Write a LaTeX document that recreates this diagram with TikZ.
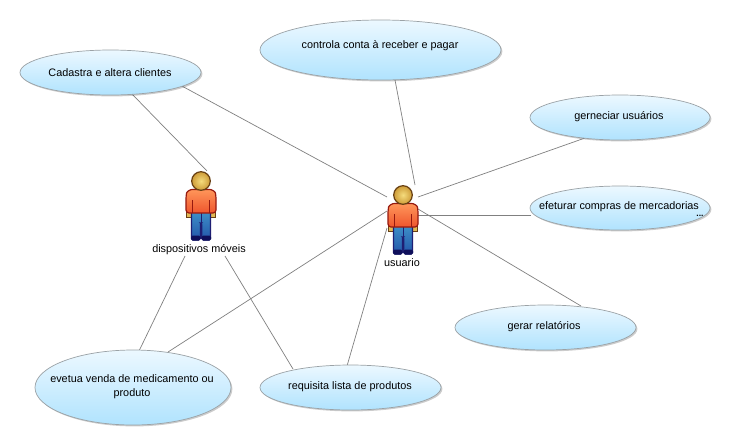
\documentclass[tikz,border=0pt]{standalone}
\usepackage{fontspec}
\setmainfont{Liberation Sans}
\usetikzlibrary{shapes.geometric,shadows}
\definecolor{ebord}{RGB}{155,162,166}
\definecolor{etop}{RGB}{236,248,255}
\definecolor{ebot}{RGB}{176,227,254}
\definecolor{torsoT}{RGB}{255,150,90}
\definecolor{torsoB}{RGB}{238,85,45}
\definecolor{torsoL}{RGB}{150,25,15}
\definecolor{legT}{RGB}{62,145,200}
\definecolor{legB}{RGB}{35,85,170}
\definecolor{legL}{RGB}{30,30,115}
\definecolor{footC}{RGB}{15,15,90}
\definecolor{headI}{RGB}{245,220,125}
\definecolor{headO}{RGB}{205,155,55}
\definecolor{headL}{RGB}{105,65,20}
\definecolor{handC}{RGB}{225,185,85}
\tikzset{
 usecase/.style={ellipse,draw=ebord,line width=.7pt,top color=etop,bottom color=ebot,inner sep=0pt,
   minimum width=#1,drop shadow={shadow xshift=1.4pt,shadow yshift=-1.4pt,opacity=.2,fill=black}},
 lnk/.style={draw=black!50,line width=.7pt},
 lab/.style={font=\fontsize{10.85}{14}\selectfont,inner sep=0pt,text=black},
}
\newcommand{\actorfig}[1]{%
 \begin{scope}[shift={#1}]
  \fill[handC,draw=headL,line width=.5pt] (-14.5,30) rectangle (-9.5,36);
  \fill[handC,draw=headL,line width=.5pt] (9.5,30) rectangle (14.5,36);
  \draw[line width=1.1pt,draw=legL,top color=legT,bottom color=legB,rounded corners=1.5pt]
    (-9.5,30) -- (-9.5,59) -- (-0.7,59) -- (-0.7,42) -- (0.7,42) -- (0.7,59) -- (9.5,59) -- (9.5,30) -- cycle;
  \draw[line width=.9pt,legL] (0,32) -- (0,56);
  \fill[footC,rounded corners=1.5pt] (-10,54.5) rectangle (-0.6,59.5);
  \fill[footC,rounded corners=1.5pt] (0.6,54.5) rectangle (10,59.5);
  \draw[line width=1.2pt,draw=torsoL,top color=torsoT,bottom color=torsoB,rounded corners=3pt]
    (-15,32) -- (-15,15) .. controls (-14,10) and (-10,8.5) .. (-6,8.5) -- (6,8.5) .. controls (10,8.5) and (14,10) .. (15,15) -- (15,32) -- (9,32) -- (-9,32) -- cycle;
  \draw[line width=.9pt,torsoL] (-8.5,19) -- (-8.5,32) (8.5,19) -- (8.5,32);
  \draw[line width=1.2pt,draw=headL,inner color=headI,outer color=headO] (0,0) circle (9.3);
 \end{scope}}
\begin{document}
\begin{tikzpicture}[x=1pt,y=-1pt]
\useasboundingbox (0,0) rectangle (730,445);
\fill[white] (0,0) rectangle (730,445);
\coordinate (a1) at (207,171); \coordinate (a2) at (185,256); \coordinate (a3) at (225,256);
\coordinate (u1) at (415,185); \coordinate (u2) at (387,197); \coordinate (u3) at (418,197);
\coordinate (u4) at (418,215); \coordinate (u5) at (418,209); \coordinate (u6) at (387,211); \coordinate (u7) at (387,228);
\coordinate (c1) at (131,93); \coordinate (c2) at (180,85); \coordinate (c3) at (395,80);
\coordinate (g1) at (585,138); \coordinate (e1) at (531,215); \coordinate (r1) at (581,306);
\coordinate (q1) at (293,369); \coordinate (q2) at (347,366); \coordinate (v1) at (139,351); \coordinate (v2) at (168,352);
\draw[lnk] (c1) -- (a1);
\draw[lnk] (v1) -- (a2);
\draw[lnk] (q1) -- (a3);
\draw[lnk] (c3) -- (u1);
\draw[lnk] (c2) -- (u2);
\draw[lnk] (g1) -- (u3);
\draw[lnk] (e1) -- (u4);
\draw[lnk] (r1) -- (u5);
\draw[lnk] (v2) -- (u6);
\draw[lnk] (q2) -- (u7);
\node[usecase=181pt,minimum height=45pt] (cad) at (110.5,72.5) {};
\node[lab] at (110,73) {Cadastra e altera clientes};
\node[usecase=241pt,minimum height=60pt] (con) at (380.5,50) {};
\node[lab] at (380,46) {controla conta à receber e pagar};
\node[usecase=180pt,minimum height=45pt] (ger) at (620,117.5) {};
\node[lab] at (619,117) {gerneciar usuários};
\node[usecase=180pt,minimum height=44pt] (efe) at (620,208) {};
\node[lab] at (619,206.5) {efeturar compras de mercadorias};
\node[font=\bfseries\fontsize{8.5}{8.5}\selectfont,inner sep=0pt] (dots) at (700,216) {...};
\node[usecase=181pt,minimum height=45pt] (rel) at (545.5,327.5) {};
\node[lab] at (544,327) {gerar relatórios};
\node[usecase=181pt,minimum height=45pt] (req) at (350.5,387.5) {};
\node[lab] at (350,387) {requisita lista de produtos};
\node[usecase=196pt,minimum height=75pt] (eve) at (133,387.5) {};
\node[lab,align=center] at (132,387) {evetua venda de medicamento ou\\produto};
\node[lab] (alab) at (199,250) {dispositivos móveis};
\node[lab] (ulab) at (402,263) {usuario};
\actorfig{(201,181)}
\actorfig{(403,195)}
\end{tikzpicture}
\end{document}
